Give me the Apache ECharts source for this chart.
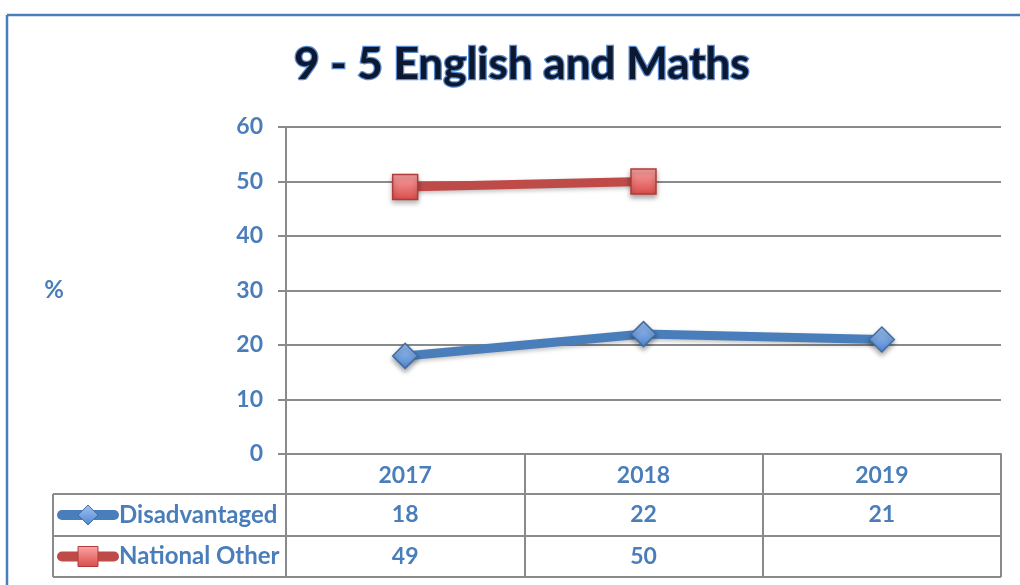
<!DOCTYPE html>
<html>
<head>
<meta charset="utf-8">
<script src="https://cdn.jsdelivr.net/npm/echarts@6/dist/echarts.min.js"></script>
<style>
html,body{margin:0;padding:0;background:#fff;}
#chart{width:1020px;height:585px;}
</style>
</head>
<body>
<div id="chart"></div>
<script>
// ---- data ----
var titleText = '9 - 5 English and Maths';
var categories = ['2017', '2018', '2019'];
var seriesNames = ['Disadvantaged', 'National Other'];
var disadvantaged = [18, 22, 21];
var nationalOther = [49, 50, null];
var yTicks = [0, 10, 20, 30, 40, 50, 60];
var yAxisName = '%';

// ---- layout ----
var W = 1020, H = 585;
var gridLeft = 286, gridRight = 19, gridTop = 127, gridBottom = 131;
var headerH = 40, rowH = [42, 41];
var tableLeft = 53;
var FONT = 'Lato, "Open Sans", sans-serif';
var FS = 23;
var BLUE_TXT = '#4a7ebb';
var GRAY = '#8a8a8a';

var blueGrad = new echarts.graphic.LinearGradient(0, 0, 0, 1, [
  {offset: 0, color: '#a3c4f2'}, {offset: 1, color: '#4f86d0'}]);
var redGrad = new echarts.graphic.LinearGradient(0, 0, 0, 1, [
  {offset: 0, color: '#fba5a5'}, {offset: 1, color: '#d84c4a'}]);

var styles = [
  {line: '#4a7ebb', symbol: 'diamond', size: 25, fill: blueGrad, border: '#3e6ea8'},
  {line: '#be4b48', symbol: 'rect', size: 25, fill: redGrad, border: '#b03c39'}
];
var values = [disadvantaged, nationalOther];

var chart = echarts.init(document.getElementById('chart'), null, {renderer: 'canvas'});

var series = values.map(function (vals, i) {
  var s = styles[i];
  return {
    name: seriesNames[i],
    type: 'line',
    data: vals,
    symbol: s.symbol,
    symbolSize: s.size,
    showAllSymbol: true,
    lineStyle: {color: s.line, width: 9, shadowColor: 'rgba(0,0,0,0.25)', shadowBlur: 4, shadowOffsetY: 2},
    itemStyle: {color: s.fill, borderColor: s.border, borderWidth: 1.5,
      shadowColor: 'rgba(0,0,0,0.35)', shadowBlur: 5, shadowOffsetY: 3},
    emphasis: {disabled: true},
    z: 3 + i,
    animation: false
  };
});

var option = {
  animation: false,
  backgroundColor: '#fff',
  title: {
    text: titleText,
    left: 289,
    top: 38,
    textStyle: {fontFamily: FONT, fontWeight: 'bold', fontSize: 44, color: '#0b1830',
      textBorderColor: '#5b8bd0', textBorderWidth: 2.5}
  },
  grid: {left: gridLeft, right: gridRight, top: gridTop, bottom: gridBottom},
  xAxis: {
    type: 'category',
    data: categories,
    boundaryGap: true,
    axisLine: {show: true, lineStyle: {color: GRAY, width: 2}},
    axisTick: {show: true, interval: 0, length: headerH + rowH[0] + rowH[1],
      lineStyle: {color: GRAY, width: 2}},
    axisLabel: {margin: 10, fontFamily: FONT, fontWeight: 'bold', fontSize: FS, color: BLUE_TXT}
  },
  yAxis: {
    type: 'value',
    min: yTicks[0], max: yTicks[yTicks.length - 1], interval: yTicks[1] - yTicks[0],
    name: yAxisName,
    nameLocation: 'middle',
    nameRotate: 0,
    nameGap: 222,
    nameTextStyle: {fontFamily: FONT, fontWeight: 'bold', fontSize: 24, color: BLUE_TXT},
    axisLine: {show: true, lineStyle: {color: GRAY, width: 2}},
    axisTick: {show: true, length: 8, lineStyle: {color: GRAY, width: 2}},
    axisLabel: {margin: 23, fontFamily: FONT, fontWeight: 'bold', fontSize: FS, color: BLUE_TXT},
    splitLine: {show: true, lineStyle: {color: GRAY, width: 2}}
  },
  series: series
};
chart.setOption(option);

// ---- data table (built from the arrays, positioned from the axis) ----
function buildTable() {
  var axisY = chart.convertToPixel({yAxisIndex: 0}, 0);
  var right = W - gridRight;
  var g = [];
  // outer frame of the chart area
  g.push({type: 'line', shape: {x1: 7, y1: 15, x2: W, y2: 15}, style: {stroke: '#4a7ebb', lineWidth: 2.5}, silent: true});
  g.push({type: 'line', shape: {x1: 7, y1: 15, x2: 7, y2: H}, style: {stroke: '#4a7ebb', lineWidth: 2.5}, silent: true});
  var yRow = axisY + headerH;
  var rowTops = [yRow, yRow + rowH[0]];
  var bottom = yRow + rowH[0] + rowH[1];
  [rowTops[0], rowTops[1], bottom].forEach(function (y) {
    g.push({type: 'line', shape: {x1: tableLeft, y1: y, x2: right, y2: y}, style: {stroke: GRAY, lineWidth: 2}, silent: true});
  });
  g.push({type: 'line', shape: {x1: tableLeft, y1: rowTops[0], x2: tableLeft, y2: bottom}, style: {stroke: GRAY, lineWidth: 2}, silent: true});

  values.forEach(function (vals, i) {
    var cy = rowTops[i] + rowH[i] / 2;
    var s = styles[i];
    // legend key
    g.push({type: 'line', shape: {x1: 62, y1: cy, x2: 114, y2: cy},
      style: {stroke: s.line, lineWidth: 10, lineCap: 'round'}, silent: true});
    if (s.symbol === 'diamond') {
      g.push({type: 'polygon', shape: {points: [[88, cy - 10], [98, cy], [88, cy + 10], [78, cy]]},
        style: {fill: s.fill, stroke: s.border, lineWidth: 1}, silent: true});
    } else {
      g.push({type: 'rect', shape: {x: 78, y: cy - 10, width: 20, height: 20},
        style: {fill: s.fill, stroke: s.border, lineWidth: 1}, silent: true});
    }
    g.push({type: 'text', style: {text: seriesNames[i], x: 119, y: cy, textVerticalAlign: 'middle',
      font: 'bold 24px ' + FONT, fill: BLUE_TXT}, silent: true});
    vals.forEach(function (v, j) {
      if (v === null || v === undefined) return;
      var cx = chart.convertToPixel({xAxisIndex: 0}, categories[j]);
      g.push({type: 'text', style: {text: String(v), x: cx, y: cy, textAlign: 'center', textVerticalAlign: 'middle',
        font: 'bold ' + FS + 'px ' + FONT, fill: BLUE_TXT}, silent: true});
    });
  });
  chart.setOption({graphic: g});
}
buildTable();
</script>
</body>
</html>
